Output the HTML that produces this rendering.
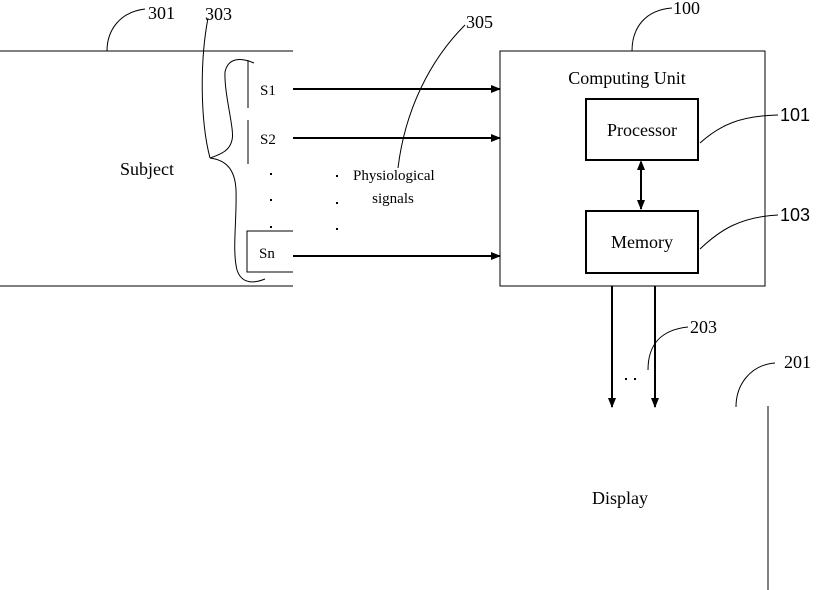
<!DOCTYPE html>
<html><head><meta charset="utf-8"><style>
html,body{margin:0;padding:0;background:#fff;}
svg{display:block;}
text{font-family:"Liberation Serif",serif;fill:#000;}
</style></head><body>
<svg width="819" height="590" viewBox="0 0 819 590" xmlns="http://www.w3.org/2000/svg">
<defs>
<marker id="ah" markerWidth="10" markerHeight="8" refX="9" refY="4" orient="auto" markerUnits="userSpaceOnUse">
<path d="M0,0 L10,4 L0,8 Z" fill="#000"/></marker>
</defs>
<g stroke="#000" fill="none" stroke-width="1">
<line x1="0" y1="51" x2="293" y2="51"/>
<line x1="0" y1="286" x2="293" y2="286"/>
<rect x="500" y="51" width="265" height="235"/>
<rect x="586" y="99" width="112" height="61" stroke-width="2"/>
<rect x="586" y="211" width="112" height="62" stroke-width="2"/>
<line x1="248" y1="60" x2="248" y2="108"/>
<line x1="248" y1="120" x2="248" y2="164"/>
<polyline points="293,231 247,231 247,272 293,272"/>
<path d="M254,63 C240,57 228,58 225,72 C224,95 235,130 232,140 C230,150 222,154 210,158 C225,160 235,168 236,190 C237,220 232,250 237,270 C242,285 255,283 265,279"/>
<path d="M210,158 C200,120 200,60 208,18"/>
<path d="M107,51 C107,30 120,12 145,9"/>
<path d="M398,168 C405,110 430,60 465,25"/>
<path d="M632,51 C632,28 645,10 672,8"/>
<path d="M700,143 C720,125 740,116 778,115"/>
<path d="M700,249 C720,230 740,217 778,215"/>
<path d="M648,370 C648,345 660,330 688,327"/>
<path d="M736,407 C736,385 750,365 775,363"/>
<line x1="768" y1="406" x2="768" y2="590"/>
</g>
<g stroke="#000" stroke-width="2" fill="none">
<line x1="293" y1="89" x2="500" y2="89" marker-end="url(#ah)"/>
<line x1="293" y1="138" x2="500" y2="138" marker-end="url(#ah)"/>
<line x1="293" y1="256" x2="500" y2="256" marker-end="url(#ah)"/>
<line x1="641" y1="162" x2="641" y2="209" marker-end="url(#ah)" marker-start="url(#ah2)"/>
<line x1="612" y1="286" x2="612" y2="407" marker-end="url(#ah)"/>
<line x1="655" y1="286" x2="655" y2="407" marker-end="url(#ah)"/>
</g>
<path d="M641,160 L637,170 L645,170 Z" fill="#000"/>
<g fill="#000">
<rect x="270" y="173" width="2" height="2"/><rect x="270" y="199" width="2" height="2"/><rect x="270" y="226" width="2" height="2"/>
<rect x="336" y="175" width="2" height="2"/><rect x="336" y="202" width="2" height="2"/><rect x="336" y="228" width="2" height="2"/>
<rect x="625" y="378" width="2" height="2"/><rect x="634" y="378" width="2" height="2"/>
</g>
<text x="147" y="175" font-size="18" text-anchor="middle">Subject</text>
<text x="260" y="95" font-size="15">S1</text>
<text x="260" y="144" font-size="15">S2</text>
<text x="259" y="258" font-size="15">Sn</text>
<text x="353" y="180" font-size="15">Physiological</text>
<text x="393" y="203" font-size="15" text-anchor="middle">signals</text>
<text x="627" y="84" font-size="18" text-anchor="middle">Computing Unit</text>
<text x="642" y="136" font-size="18" text-anchor="middle">Processor</text>
<text x="642" y="248" font-size="18" text-anchor="middle">Memory</text>
<text x="620" y="504" font-size="18" text-anchor="middle">Display</text>
<text x="148" y="19" font-size="18">301</text>
<text x="205" y="20" font-size="18">303</text>
<text x="466" y="28" font-size="18">305</text>
<text x="673" y="14" font-size="18">100</text>
<text x="690" y="333" font-size="18">203</text>
<text x="784" y="368" font-size="18">201</text>
<text x="780" y="121" font-size="18" style="font-family:'Liberation Sans',sans-serif">101</text>
<text x="780" y="221" font-size="18" style="font-family:'Liberation Sans',sans-serif">103</text>
</svg>
</body></html>
